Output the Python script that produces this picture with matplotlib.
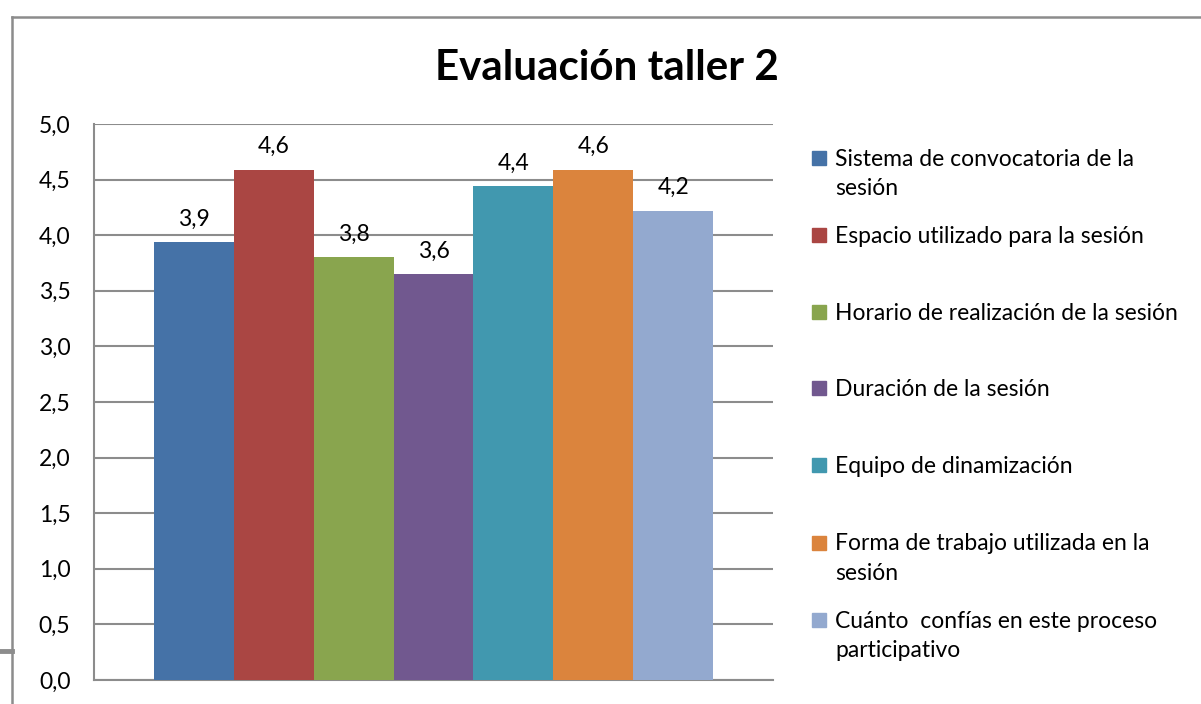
import matplotlib
matplotlib.use("Agg")
import matplotlib.pyplot as plt
from matplotlib.lines import Line2D
from matplotlib.patches import Rectangle

title = "Evaluación taller 2"
categories = [
    "Sistema de convocatoria de la\nsesión",
    "Espacio utilizado para la sesión",
    "Horario de realización de la sesión",
    "Duración de la sesión",
    "Equipo de dinamización",
    "Forma de trabajo utilizada en la\nsesión",
    "Cuánto  confías en este proceso\nparticipativo",
]
values = [3.94, 4.59, 3.80, 3.65, 4.44, 4.59, 4.22]
colors = ["#4572A7", "#AA4643", "#89A54E", "#71588F", "#4198AF", "#DB843D", "#93A9CF"]
yticks = [0.0, 0.5, 1.0, 1.5, 2.0, 2.5, 3.0, 3.5, 4.0, 4.5, 5.0]

plt.rcParams['font.family'] = ['Lato', 'DejaVu Sans']

W, H = 1201, 704
fig = plt.figure(figsize=(W / 100, H / 100), dpi=100)
fig.patch.set_facecolor("white")

def fx(px):
    return px / W

def fy(py):
    return 1 - py / H

FS = 16.5

ax = fig.add_axes([fx(94), fy(680), fx(773) - fx(94), fy(124) - fy(680)])
x = list(range(len(values)))
bars = ax.bar(x, values, width=1.0, color=colors, zorder=3)
ax.set_xlim(-0.5 - 0.75, len(values) - 0.5 + 0.75)
ax.set_ylim(0, 5.0)
ax.set_yticks(yticks)
ax.set_yticklabels([f"{t:.1f}".replace(".", ",") for t in yticks], fontsize=FS)
ax.set_xticks([])
ax.yaxis.grid(True, color="#8c8c8c", linewidth=1.5, zorder=0)
ax.tick_params(axis="y", length=0, pad=17)
for s in ["top", "right"]:
    ax.spines[s].set_visible(False)
for s in ["left", "bottom"]:
    ax.spines[s].set_color("#8c8c8c")
    ax.spines[s].set_linewidth(1.5)

for b, v in zip(bars, values):
    ax.annotate(f"{v:.1f}".replace(".", ","), (b.get_x() + b.get_width() / 2, v),
                xytext=(0, 9), textcoords="offset points", ha="center", va="bottom",
                fontsize=FS, color="#000000")

fig.text(fx(607), fy(68), title, ha="center", va="center", fontsize=30.3, fontweight="bold")

# legend
entry_y = [158, 235, 312, 388, 465, 543, 620]
LINE_H = 29
for lab, c, yy in zip(categories, colors, entry_y):
    fig.patches.append(Rectangle((fx(812), fy(yy + 7)), fx(14), 14 / H,
                                 transform=fig.transFigure, color=c))
    n = lab.count("\n")
    fig.text(fx(835), fy(yy + 8 + n * LINE_H), lab, ha="left", va="baseline", fontsize=FS,
             linespacing=1.5)

# outer frame lines
fig.add_artist(Line2D([fx(12), fx(1201)], [fy(17), fy(17)], color="#8c8c8c", lw=1.8,
                      transform=fig.transFigure))
fig.add_artist(Line2D([fx(12), fx(12)], [fy(17), fy(704)], color="#8c8c8c", lw=1.8,
                      transform=fig.transFigure))
fig.add_artist(Line2D([fx(0), fx(12)], [fy(651), fy(651)], color="#8c8c8c", lw=3.5,
                      transform=fig.transFigure))

fig.savefig("out.png", dpi=100)
